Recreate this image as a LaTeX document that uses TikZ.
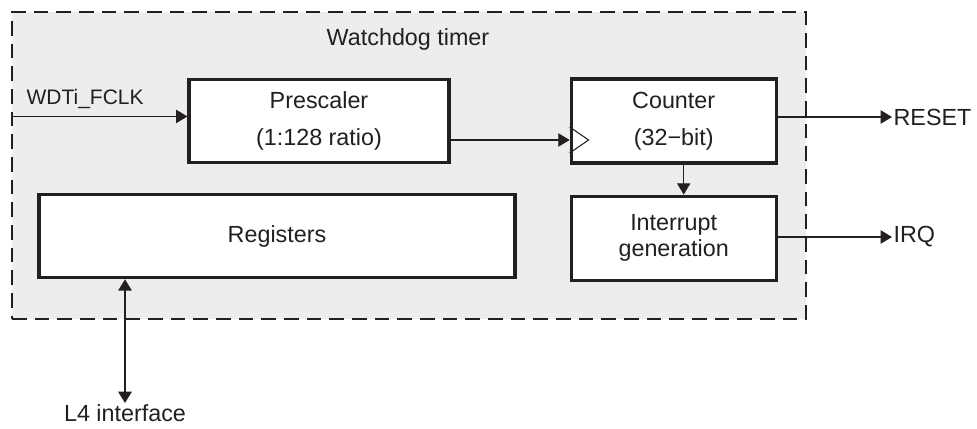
\documentclass[tikz,border=0pt]{standalone}
\usepackage{fontspec}
\setmainfont{Liberation Sans}
\usetikzlibrary{arrows.meta,positioning}
\definecolor{wdtline}{HTML}{231F20}
\definecolor{wdtfill}{HTML}{EDEDED}

\begin{document}
\begin{tikzpicture}[
    x=0.75pt, y=-0.75pt,
    font=\fontsize{17.5}{19.5}\selectfont,
    >={Triangle[length=8.5pt,width=10pt]},
    % Define styles for the blocks
    block/.style={rectangle, draw=wdtline, line width=2.4pt, fill=white, text=wdtline, align=center, inner sep=0pt},
    panel/.style={rectangle, draw=wdtline, line width=1.5pt, dash pattern=on 11pt off 6pt, fill=wdtfill, inner sep=0pt},
    sig/.style={draw=wdtline, line width=0.8pt, ->},
    bus/.style={draw=wdtline, line width=1.5pt, <->},
    lbl/.style={text=wdtline, inner sep=1pt}
]
\useasboundingbox (0,0) rectangle (977,428);

% ==========================================
% Container: Watchdog timer
% ==========================================
\node[panel, minimum width=595.5pt, minimum height=230.25pt] (wdt) at (409,165.5) {};
\node[lbl] (title) at (408,39) {Watchdog timer};

% ==========================================
% Blocks
% ==========================================
\node[block, minimum width=195pt, minimum height=62.5pt] (pre) at (319,121) {Prescaler\\[8.25pt](1:128 ratio)};
\node[block, minimum width=153.75pt, minimum height=63pt, right=89.25pt of pre] (cnt) {Counter\\[8.25pt](32−bit)};
\node[block, minimum width=153.75pt, minimum height=63pt, below=22.5pt of cnt] (irqgen) {Interrupt\\generation};
\node[block, minimum width=357pt, minimum height=62.5pt] (reg) at (277,236) {Registers};

% clock input of the counter
\coordinate (clkin) at ([yshift=-14.25pt]cnt.west);
\draw[wdtline, line width=0.8pt] ([yshift=9.75pt]clkin) -- ++(19,13) -- ++(-19,13);

% ==========================================
% External signals
% ==========================================
\node[lbl, font=\fontsize{15.75}{18}\selectfont, anchor=base west] (clkname) at (25,104) {WDTi\_FCLK};
\node[lbl, anchor=west] (reset) at (892,117) {RESET};
\node[lbl, anchor=west] (irq) at (892,237) {IRQ};
\node[lbl, anchor=north] (l4) at (125,403) {L4 interface};

\coordinate (clkrow) at ([yshift=3.4pt]pre.west);
\draw[sig] (wdt.west |- clkrow) -- (clkrow);
\draw[sig] (pre.east |- clkin) -- (clkin);
\draw[sig] (cnt.east |- reset.west) -- (reset.west);
\draw[sig] ([xshift=7.5pt]cnt.south) -- ([xshift=7.5pt]irqgen.north);
\draw[sig] (irqgen.east |- irq.west) -- (irq.west);
\draw[bus] (l4.north |- reg.south) -- (l4.north);

\end{tikzpicture}
\end{document}
